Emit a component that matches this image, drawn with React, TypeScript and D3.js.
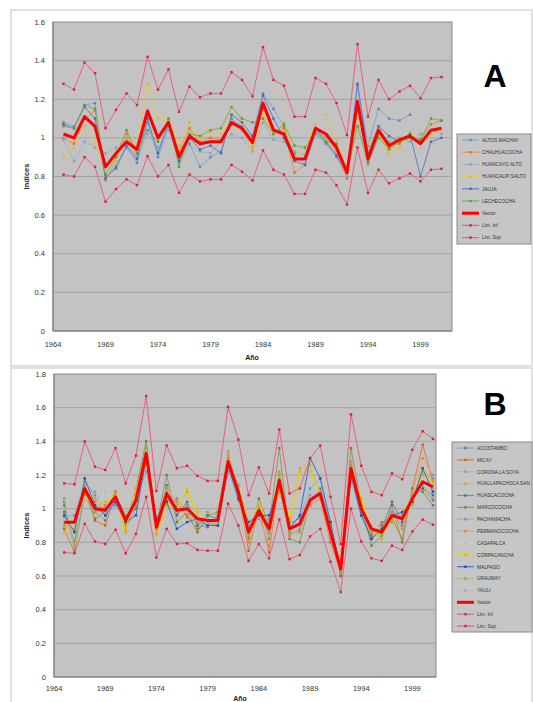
import React from 'react';
import * as d3 from 'd3';

const years = [1965,1966,1967,1968,1969,1970,1971,1972,1973,1974,1975,1976,1977,1978,1979,1980,1981,1982,1983,1984,1985,1986,1987,1988,1989,1990,1991,1992,1993,1994,1995,1996,1997,1998,1999,2000,2001];
const xTickYears = [1964,1969,1974,1979,1984,1989,1994,1999];
const yTicksA = [0,0.2,0.4,0.6,0.8,1,1.2,1.4,1.6];
const yTicksB = [0,0.2,0.4,0.6,0.8,1,1.2,1.4,1.6,1.8];

// Panel A
const vectorA = [1.02,1.00,1.11,1.06,0.85,0.92,0.98,0.94,1.14,1.00,1.08,0.90,1.01,0.97,0.98,0.98,1.08,1.05,0.975,1.18,1.04,1.02,0.89,0.89,1.05,1.02,0.95,0.82,1.19,0.89,1.04,0.96,0.99,1.01,0.97,1.04,1.05];
const limSupA = [1.28,1.25,1.39,1.335,1.05,1.145,1.23,1.17,1.42,1.25,1.355,1.135,1.265,1.21,1.23,1.23,1.34,1.30,1.215,1.47,1.30,1.27,1.11,1.11,1.31,1.28,1.18,1.015,1.485,1.11,1.30,1.20,1.24,1.27,1.205,1.31,1.315];
const limInfA = [0.81,0.80,0.90,0.85,0.67,0.735,0.785,0.755,0.905,0.80,0.86,0.715,0.81,0.775,0.785,0.785,0.86,0.825,0.78,0.935,0.835,0.81,0.71,0.71,0.835,0.82,0.755,0.655,0.95,0.715,0.835,0.765,0.79,0.815,0.775,0.835,0.84];
const altosMachay = [1.08,1.06,1.17,1.18,0.80,0.84,0.95,0.87,1.08,0.90,1.06,0.87,0.97,0.85,0.90,0.93,1.10,1.06,1.00,1.23,1.15,1.06,0.92,0.86,1.02,0.97,0.90,0.80,1.27,0.96,1.15,1.10,1.09,1.12,null,null,null];
const chalhuacocha = [1.00,0.97,1.10,1.14,0.78,0.88,1.02,0.92,1.12,1.01,1.09,0.93,1.05,0.98,1.00,0.99,1.07,1.04,0.95,1.16,1.02,1.05,0.82,0.86,1.05,1.00,0.93,0.79,1.16,0.88,1.01,0.95,0.97,1.00,0.99,1.07,1.09];
const huancayoAlto = [0.99,0.88,0.98,0.95,0.92,0.95,1.00,0.90,1.02,0.95,1.04,0.92,0.96,0.93,0.92,0.98,1.02,1.00,0.93,1.08,0.99,0.98,0.93,0.91,1.03,1.00,0.96,0.85,1.10,0.86,1.02,0.98,1.00,0.98,1.02,1.04,1.02];
const huancalpiSalto = [0.90,0.95,1.06,0.97,0.82,0.88,1.04,0.96,1.28,1.10,1.10,0.96,1.08,1.00,1.03,1.02,1.12,1.08,0.94,1.12,1.02,1.08,0.90,0.94,1.07,1.12,0.99,0.84,1.10,0.97,1.01,0.92,0.95,1.03,0.98,1.00,1.04];
const jauja = [1.07,1.05,1.16,1.10,0.79,0.85,0.96,0.89,1.10,0.92,1.08,0.88,1.00,0.94,0.96,0.92,1.12,1.08,1.01,1.22,1.10,1.00,0.88,0.86,1.05,0.98,0.91,0.82,1.28,0.92,1.06,1.01,0.98,1.02,0.80,0.98,1.00];
const lechecocha = [1.06,1.05,1.17,1.15,0.81,0.90,1.04,0.92,1.04,0.98,1.10,0.85,1.02,1.01,1.04,1.05,1.16,1.10,1.08,1.10,1.02,1.07,0.96,0.95,1.03,0.98,0.97,0.82,1.06,0.87,1.00,0.94,0.98,1.00,0.99,1.10,1.09];

// Panel B
const vectorB = [0.92,0.92,1.12,1.00,0.99,1.07,0.93,1.05,1.33,0.89,1.09,0.99,1.00,0.94,0.93,0.93,1.28,1.10,0.86,0.99,0.88,1.17,0.88,0.91,1.05,1.09,0.86,0.64,1.24,1.00,0.88,0.86,0.96,0.94,1.06,1.16,1.13];
const limSupB = [1.15,1.145,1.40,1.25,1.23,1.36,1.15,1.315,1.67,1.105,1.375,1.24,1.255,1.195,1.165,1.165,1.605,1.41,1.08,1.245,1.09,1.47,1.09,1.12,1.30,1.375,1.07,0.79,1.56,1.255,1.10,1.08,1.21,1.175,1.35,1.46,1.415];
const limInfB = [0.74,0.735,0.91,0.805,0.79,0.875,0.735,0.85,1.07,0.71,0.88,0.79,0.795,0.755,0.75,0.75,1.03,0.90,0.69,0.79,0.705,0.935,0.70,0.725,0.835,0.88,0.685,0.505,1.00,0.805,0.705,0.69,0.78,0.755,0.865,0.935,0.905];
const acostambo = [1.04,0.75,1.08,0.98,0.93,1.10,0.88,1.00,1.30,0.85,1.14,0.97,1.02,0.90,0.89,0.96,1.25,1.05,0.83,1.02,0.82,1.20,0.85,0.87,1.02,1.12,0.90,0.60,1.22,1.02,0.84,0.90,0.97,0.90,1.08,1.12,1.05];
const micay = [0.88,0.74,1.14,0.93,0.90,1.08,0.96,1.00,1.30,0.86,1.05,1.04,0.95,0.88,0.92,0.90,1.30,1.12,0.75,1.00,0.74,1.18,0.90,0.95,1.02,1.06,0.80,0.62,1.26,1.04,0.84,0.92,0.94,0.82,1.12,1.38,1.16];
const corona = [0.95,0.96,1.14,1.10,1.00,1.02,0.90,1.08,1.28,0.92,1.12,1.02,0.97,0.96,0.90,0.92,1.24,1.05,0.88,1.02,0.92,1.14,0.86,0.92,1.08,1.06,0.88,0.66,1.20,1.00,0.90,0.88,0.98,0.96,1.04,1.14,1.10];
const huallapachoca = [0.90,0.88,1.12,1.06,0.98,1.06,0.86,1.10,1.26,0.88,1.04,1.02,1.10,0.96,0.94,0.92,1.28,1.14,0.92,0.96,0.92,1.10,0.90,1.24,1.26,1.08,0.90,0.66,1.20,1.06,0.88,0.82,0.94,0.98,1.02,1.20,1.16];
const huascacocha = [0.98,0.80,1.10,1.02,1.00,1.04,0.94,1.02,1.34,0.90,1.08,0.96,1.04,0.90,0.96,0.94,1.28,1.08,0.86,0.98,0.86,1.18,0.88,0.90,1.06,1.10,0.84,0.62,1.24,0.98,0.82,0.88,1.04,0.92,1.06,1.12,1.08];
const marcococha = [1.02,0.78,1.10,0.94,0.98,1.10,0.90,1.12,1.40,0.90,1.20,0.92,0.98,0.86,0.96,0.98,1.32,1.12,0.82,1.06,0.90,1.36,0.82,0.80,1.04,1.10,0.92,0.60,1.36,1.02,0.78,0.84,1.02,0.80,1.12,1.10,1.02];
const pachamacha = [0.96,0.96,1.16,1.08,0.96,1.02,0.94,1.06,1.22,0.92,1.02,1.06,0.98,0.92,0.90,0.94,1.22,1.08,0.90,0.94,0.94,1.16,0.92,0.94,1.12,1.18,0.86,0.68,1.18,0.96,0.88,0.86,0.98,0.96,1.04,1.22,1.18];
const permanococha = [0.90,0.86,1.18,1.04,1.02,1.10,0.92,1.02,1.36,0.86,1.12,1.04,0.96,0.92,0.94,0.90,1.34,1.08,0.80,0.96,0.78,1.22,0.84,0.86,1.02,1.06,0.82,0.62,1.28,1.02,0.90,0.86,0.98,0.88,1.10,1.30,1.20];
const casapalca = [0.94,0.90,1.08,1.00,1.10,1.04,0.96,1.04,1.30,0.90,1.10,1.00,0.98,0.96,0.94,0.92,1.26,1.10,0.88,1.00,0.90,1.14,0.90,0.92,1.04,1.08,0.88,0.66,1.22,1.00,0.90,0.88,0.96,0.94,1.04,1.14,1.12];
const corpacancha = [0.86,0.92,1.08,1.00,1.04,1.08,0.88,1.12,1.30,0.84,1.02,1.00,1.12,0.98,0.90,0.90,1.30,1.12,0.86,1.04,0.88,1.14,0.94,1.22,1.22,1.10,0.86,0.68,1.24,1.06,0.86,0.86,0.96,0.98,1.06,1.24,1.14];
const malpaso = [0.96,0.86,1.18,1.02,0.96,1.04,0.92,0.96,1.30,0.94,1.04,0.88,0.92,0.94,0.90,0.90,1.26,1.06,0.92,0.96,0.96,1.14,0.88,0.96,1.30,1.18,0.92,0.64,1.20,0.96,0.82,0.88,0.96,0.98,1.04,1.24,1.10];
const uraumay = [1.06,0.76,1.14,0.98,1.00,1.06,0.96,1.08,1.36,0.88,1.10,0.98,1.02,0.92,0.98,0.96,1.30,1.14,0.84,1.00,0.86,1.20,0.86,0.88,1.06,1.08,0.88,0.62,1.26,1.00,0.86,0.84,0.92,0.96,1.08,1.14,1.06];
const yauli = [0.92,0.92,1.10,1.00,0.98,1.06,0.94,1.04,1.32,0.90,1.08,0.98,1.00,0.94,0.92,0.94,1.28,1.10,0.86,0.98,0.88,1.16,0.88,0.90,1.06,1.08,0.86,0.64,1.24,1.00,0.88,0.86,0.96,0.94,1.06,1.16,1.12];

type Series = { name: string; color: string; values: (number | null)[]; width: number; marker: string };

const seriesA: Series[] = [
  { name: 'ALTOS MACHAY', color: '#7fa6cf', values: altosMachay, width: 1, marker: '#5f86b8' },
  { name: 'CHALHUACOCHA', color: '#f0923a', values: chalhuacocha, width: 1, marker: '#d9732a' },
  { name: 'HUANCAYO ALTO', color: '#a3b3c6', values: huancayoAlto, width: 1, marker: '#8fa0b5' },
  { name: 'HUANCALPI SALTO', color: '#e8c84c', values: huancalpiSalto, width: 1, marker: '#d8b83c' },
  { name: 'JAUJA', color: '#5e80c2', values: jauja, width: 1, marker: '#4a6aae' },
  { name: 'LECHECOCHA', color: '#7db455', values: lechecocha, width: 1, marker: '#5e9a3a' },
  { name: 'Vector', color: '#ff0000', values: vectorA, width: 3, marker: '' },
  { name: 'Lim. Inf', color: '#e8607a', values: limInfA, width: 1, marker: '#d8203a' },
  { name: 'Lim. Sup', color: '#e8607a', values: limSupA, width: 1, marker: '#d8203a' },
];

const seriesB: Series[] = [
  { name: 'ACOSTAMBO', color: '#8aa7ad', values: acostambo, width: 1, marker: '#5d7a80' },
  { name: 'MICAY', color: '#e8782a', values: micay, width: 1, marker: '#c8601a' },
  { name: 'CORONA LA SOYA', color: '#a8b8cc', values: corona, width: 1, marker: '#8898ac' },
  { name: 'HUALLAPACHOCA SAN', color: '#e6c020', values: huallapachoca, width: 1, marker: '#d0a810' },
  { name: 'HUASCACOCHA', color: '#7888a6', values: huascacocha, width: 1, marker: '#56668a' },
  { name: 'MARCOCOCHA', color: '#8a9e5a', values: marcococha, width: 1, marker: '#6a8040' },
  { name: 'PACHAMACHA', color: '#8cb2de', values: pachamacha, width: 1, marker: '#6c92c0' },
  { name: 'PERMANOCOCHA', color: '#f0a070', values: permanococha, width: 1, marker: '#d88050' },
  { name: 'CASAPALCA', color: '#cfcfcf', values: casapalca, width: 1, marker: '#b8b8b8' },
  { name: 'CORPACANCHA', color: '#f2d000', values: corpacancha, width: 1, marker: '#dcb800' },
  { name: 'MALPASO', color: '#3e70c8', values: malpaso, width: 1, marker: '#2050b0' },
  { name: 'URAUMAY', color: '#a8c47e', values: uraumay, width: 1, marker: '#88a45e' },
  { name: 'YAULI', color: '#bcbcbc', values: yauli, width: 1, marker: '#a8a8a8' },
  { name: 'Vector', color: '#ff0000', values: vectorB, width: 3, marker: '' },
  { name: 'Lim. Inf', color: '#e8607a', values: limInfB, width: 1, marker: '#d8203a' },
  { name: 'Lim. Sup', color: '#e8607a', values: limSupB, width: 1, marker: '#d8203a' },
];

const FONT = '"Liberation Sans", Arial, sans-serif';

type PanelProps = {
  series: Series[];
  yTicks: number[];
  yMax: number;
  xRange: [number, number];
  xDomain: [number, number];
  yRange: [number, number];
  legend: { x: number; y: number; w: number; h: number; y0: number; step: number };
  letter: { x: number; y: number; t: string };
  titleY: number;
  tickDy: number;
  titleX: number;
};

function Panel(p: PanelProps) {
  const x = d3.scaleLinear().domain(p.xDomain).range(p.xRange);
  const y = d3.scaleLinear().domain([0, p.yMax]).range(p.yRange);
  const line = d3
    .line<number | null>()
    .defined((d) => d !== null)
    .x((_, i) => x(years[i]))
    .y((d) => y(d as number));
  const [x0, x1] = p.xRange;
  const [yb, yt] = p.yRange;
  const order = [...p.series.filter((s) => s.width === 1), ...p.series.filter((s) => s.width > 1)];
  return (
    <g>
      <rect x={x0} y={yt} width={x1 - x0} height={yb - yt} fill="#c3c3c3" stroke="#8a8a8a" strokeWidth={1} />
      {p.yTicks.filter((t) => t > 0 && t < p.yMax).map((t) => (
        <line key={'g' + t} x1={x0} x2={x1} y1={y(t)} y2={y(t)} stroke="#a2a2a2" strokeWidth={1} />
      ))}
      <line x1={x0} x2={x1} y1={yb} y2={yb} stroke="#7a7a7a" />
      <line x1={x0} x2={x0} y1={yt} y2={yb} stroke="#7a7a7a" />
      {p.yTicks.map((t) => (
        <text key={'y' + t} x={x0 - 8} y={y(t) + 2.5} fontSize={7.5} fill="#333" textAnchor="end" fontFamily={FONT}>
          {String(+t.toFixed(1))}
        </text>
      ))}
      {xTickYears.map((t) => (
        <text key={'x' + t} x={x(t)} y={yb + p.tickDy} fontSize={7.5} fill="#333" textAnchor="middle" fontFamily={FONT}>
          {t}
        </text>
      ))}
      <text x={p.titleX} y={p.titleY} fontSize={7} fontWeight="bold" fill="#222" textAnchor="middle" fontFamily={FONT}>
        Año
      </text>
      <text
        transform={`translate(29,${(yb + yt) / 2}) rotate(-90)`}
        fontSize={7.5}
        fontWeight="bold"
        fill="#222"
        textAnchor="middle"
        fontFamily={FONT}
      >
        Indices
      </text>
      {order.map((s, k) => (
        <g key={'s' + k}>
          <path d={line(s.values) || ''} fill="none" stroke={s.color} strokeWidth={s.width} strokeLinejoin="round" />
          {s.marker &&
            s.values.map((v, i) =>
              v === null ? null : (
                <rect key={i} x={x(years[i]) - 1.2} y={y(v) - 1.2} width={2.4} height={2.4} fill={s.marker} />
              )
            )}
        </g>
      ))}
      <rect x={p.legend.x} y={p.legend.y} width={p.legend.w} height={p.legend.h} fill="#c6c6c6" stroke="#8a8a8a" />
      {p.series.map((s, i) => {
        const ly = p.legend.y0 + i * p.legend.step;
        return (
          <g key={'l' + i}>
            <line x1={p.legend.x + 5} x2={p.legend.x + 22} y1={ly} y2={ly} stroke={s.color} strokeWidth={s.width > 1 ? 3 : 1.2} />
            {s.marker && <rect x={p.legend.x + 12.3} y={ly - 1.2} width={2.4} height={2.4} fill={s.marker} />}
            <text x={p.legend.x + 25} y={ly + 1.8} fontSize={4.8} fill="#333" fontFamily={FONT}>
              {s.name}
            </text>
          </g>
        );
      })}
      <text x={p.letter.x} y={p.letter.y} fontSize={32} fontWeight="bold" fill="#000" textAnchor="middle" fontFamily={FONT}>
        {p.letter.t}
      </text>
    </g>
  );
}

export default function App() {
  return (
    <div style={{ position: 'absolute', left: 0, top: 0 }}>
      <svg width={533} height={702} style={{ display: 'block', background: '#fff' }}>
        <rect x={11} y={10} width={521} height={356} fill="#fff" stroke="#c4c4c4" />
        <rect x={11} y={368} width={521} height={345} fill="#fff" stroke="#c4c4c4" />
        <Panel
          series={seriesA}
          yTicks={yTicksA}
          yMax={1.6}
          xDomain={[1964, 2002]}
          xRange={[53, 452]}
          yRange={[331, 22]}
          legend={{ x: 457, y: 134, w: 74, h: 110, y0: 140, step: 12.2 }}
          letter={{ x: 495, y: 87, t: 'A' }}
          titleY={360}
          tickDy={16}
          titleX={252}
        />
        <Panel
          series={seriesB}
          yTicks={yTicksB}
          yMax={1.8}
          xDomain={[1964, 2001.3]}
          xRange={[54, 436]}
          yRange={[677, 374]}
          legend={{ x: 452, y: 442, w: 80, h: 190, y0: 448, step: 11.87 }}
          letter={{ x: 495, y: 415, t: 'B' }}
          titleY={701}
          tickDy={13.5}
          titleX={240}
        />
      </svg>
    </div>
  );
}
